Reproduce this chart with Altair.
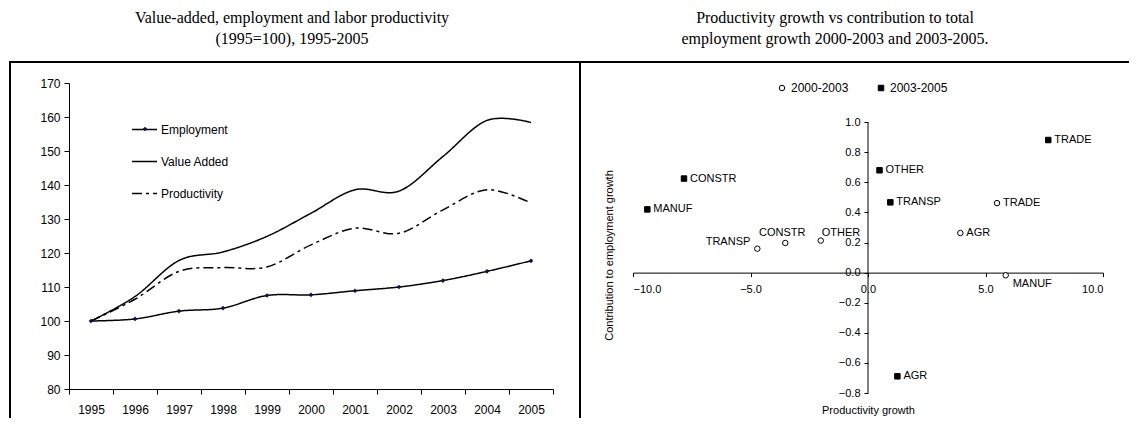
import altair as alt
import pandas as pd

# ---------------- data: left panel ----------------
years = [str(y) for y in range(1995, 2006)]
employment = [100.0, 100.6, 102.9, 103.8, 107.5, 107.7, 108.9, 110.0, 111.9, 114.6, 117.7]
value_added = [100.0, 107.2, 117.8, 120.3, 124.9, 131.7, 138.6, 138.2, 148.4, 159.0, 158.4]
productivity = [100.0, 106.4, 114.6, 115.7, 115.9, 122.4, 127.3, 125.8, 132.7, 138.6, 134.7]
series_names = ["Employment", "Value Added", "Productivity"]
left_y_ticks = [80, 90, 100, 110, 120, 130, 140, 150, 160, 170]

# ---------------- data: right panel ----------------
sectors = ["AGR", "MANUF", "CONSTR", "TRADE", "TRANSP", "OTHER"]
periods = ["2000-2003", "2003-2005"]
prod_growth_0003 = [3.93, 5.86, -3.52, 5.49, -4.71, -2.01]
emp_contrib_0003 = [0.263, -0.018, 0.197, 0.462, 0.159, 0.213]
prod_growth_0305 = [1.25, -9.39, -7.83, 7.67, 0.95, 0.49]
emp_contrib_0305 = [-0.689, 0.42, 0.625, 0.881, 0.467, 0.68]
right_x_ticks = [-10.0, -5.0, 0.0, 5.0, 10.0]
right_y_ticks = [-0.8, -0.6, -0.4, -0.2, 0.0, 0.2, 0.4, 0.6, 0.8, 1.0]

FONT = "Liberation Sans"
TFONT = "Liberation Serif"

# layout (pixels)
WL, HL = 484, 306
WR, HR = 470, 310
YR_TOP = 1.26
FRAME_TOP = -21
FRAME_BOTTOM = 335
TITLE_OFFSET = 14
MARKER_COLOR = "#101050"

# ---------------- left panel ----------------
df_line = pd.DataFrame({
    "year": years * 3,
    "series": [series_names[0]] * len(years) + [series_names[1]] * len(years) + [series_names[2]] * len(years),
    "value": employment + value_added + productivity,
})

x_left = alt.X(
    "year:O",
    scale=alt.Scale(type="band", paddingInner=0, paddingOuter=0),
    bandPosition=0.5,
    axis=alt.Axis(title=None, labelAngle=0, tickBand="extent", tickSize=5,
                  labelPadding=10, labelFontSize=12, domainColor="black",
                  tickColor="black", labelColor="black", labelOverlap=False),
)
y_left = alt.Y(
    "value:Q",
    scale=alt.Scale(domain=[80, 170], nice=False, zero=False),
    axis=alt.Axis(title=None, values=left_y_ticks, tickSize=5, labelPadding=4,
                  labelFontSize=12, domainColor="black", tickColor="black",
                  labelColor="black", grid=False, labelOverlap=False),
)

lines = alt.Chart(df_line).mark_line(interpolate="cardinal", strokeWidth=1.5, color="black").encode(
    x=x_left,
    y=y_left,
    strokeDash=alt.StrokeDash(
        "series:N",
        scale=alt.Scale(domain=series_names, range=[[1, 0], [1, 0], [10, 4, 3, 4]]),
        sort=series_names,
        legend=alt.Legend(title=None, orient="none", legendX=62, legendY=33,
                          symbolType="stroke", symbolSize=625, symbolStrokeWidth=1.5,
                          symbolStrokeColor="black", labelFontSize=12, labelColor="black",
                          labelOffset=3, rowPadding=12),
    ),
)

# marker layer; its own tiny legend puts a diamond on the "Employment" legend line
emp_points = alt.Chart(df_line).transform_filter(
    alt.datum.series == series_names[0]
).transform_calculate(marker="datum.series").mark_point(
    filled=True, size=22, opacity=1
).encode(
    x=x_left,
    y=y_left,
    shape=alt.Shape("marker:N", scale=alt.Scale(domain=[series_names[0]], range=["diamond"]),
                    legend=alt.Legend(title=None, orient="none", legendX=70, legendY=40,
                                      symbolSize=22, symbolFillColor=MARKER_COLOR,
                                      symbolStrokeWidth=0, labelExpr="''",
                                      labelFontSize=12, symbolOpacity=1)),
    color=alt.value(MARKER_COLOR),
)

frame_left = alt.Chart(df_line).mark_rule(color="black", strokeWidth=2).encode(
    x=alt.value(-59), y=alt.value(FRAME_TOP), y2=alt.value(FRAME_BOTTOM))
frame_mid = alt.Chart(df_line).mark_rule(color="black", strokeWidth=2).encode(
    x=alt.value(511), y=alt.value(FRAME_TOP), y2=alt.value(FRAME_BOTTOM))
frame_top_l = alt.Chart(df_line).mark_rule(color="black", strokeWidth=2).encode(
    x=alt.value(-60), x2=alt.value(511), y=alt.value(FRAME_TOP))

left = alt.layer(frame_left, frame_mid, frame_top_l, lines, emp_points).properties(
    width=WL, height=HL,
    title=alt.TitleParams(
        ["Value-added, employment and labor productivity", "(1995=100), 1995-2005"],
        font=TFONT, fontSize=16, fontWeight="normal", anchor="middle", dx=-19,
        offset=TITLE_OFFSET, lineHeight=21, color="black"),
)

# ---------------- right panel ----------------
df_sc = pd.DataFrame({
    "sector": sectors * 2,
    "period": [periods[0]] * len(sectors) + [periods[1]] * len(sectors),
    "pg": prod_growth_0003 + prod_growth_0305,
    "ec": emp_contrib_0003 + emp_contrib_0305,
})

x_off = -HR * (0 - (-0.8)) / (YR_TOP + 0.8)
zero_y_px = HR * YR_TOP / (YR_TOP + 0.8)
xs_right = alt.Scale(domain=[-10, 10], nice=False, zero=False)
ys_right = alt.Scale(domain=[-0.8, YR_TOP], nice=False, zero=False)

x_axis_r = alt.Axis(title="Productivity growth", values=right_x_ticks, format=".1f",
                    offset=x_off, tickSize=4, labelPadding=7, labelFontSize=11,
                    labelColor="black", domainColor="black", tickColor="black",
                    grid=False, titleFontSize=11, titleFontWeight="normal", labelOverlap=False,
                    titleColor="black", titleY=(410 - 83) - zero_y_px, titleBaseline="middle")
y_axis_r = alt.Axis(title="Contribution to employment growth", values=right_y_ticks, format=".1f",
                    offset=-WR / 2, domain=False, tickSize=4, labelPadding=4,
                    labelFontSize=11, labelColor="black", tickColor="black", grid=False,
                    labelOverlap=False,
                    titleFontSize=11, titleFontWeight="normal", titleColor="black",
                    titleX=608 - 867, titleY=255 - 83, titleAngle=270,
                    titleAlign="center", titleBaseline="middle")
x_right = alt.X("pg:Q", scale=xs_right, axis=x_axis_r)
y_right = alt.Y("ec:Q", scale=ys_right, axis=y_axis_r)

axis_line = alt.Chart(pd.DataFrame({
    "pg": [0.0], "ec": [min(right_y_ticks)], "ec2": [max(right_y_ticks)]
})).mark_rule(color="black", strokeWidth=1).encode(
    x=x_right, y=y_right, y2="ec2:Q",
)

leg = alt.Legend(title=None, orient="none", legendX=143, legendY=-1, direction="horizontal",
                 labelFontSize=12, labelColor="black", columnPadding=26, labelOffset=3,
                 symbolStrokeColor="black", symbolStrokeWidth=1, symbolSize=30)

points = alt.Chart(df_sc).mark_point(filled=True, strokeWidth=1, opacity=1, size=30).encode(
    x=x_right,
    y=y_right,
    shape=alt.Shape("period:N", scale=alt.Scale(domain=periods, range=["circle", "square"]), legend=leg),
    fill=alt.Fill("period:N", scale=alt.Scale(domain=periods, range=["white", "black"]), legend=leg),
    stroke=alt.Stroke("period:N", scale=alt.Scale(domain=periods, range=["black", "black"]), legend=leg),
)

is_a = alt.datum.period == periods[0]
base_txt = alt.Chart(df_sc)
t_default = base_txt.transform_filter(
    ~((is_a) & ((alt.datum.sector == "TRANSP") | (alt.datum.sector == "CONSTR") |
                (alt.datum.sector == "OTHER") | (alt.datum.sector == "MANUF")))
).mark_text(align="left", baseline="middle", dx=6, fontSize=11, color="black").encode(
    x=x_right, y=y_right, text="sector:N")
t_left = base_txt.transform_filter(is_a & (alt.datum.sector == "TRANSP")).mark_text(
    align="right", baseline="middle", dx=-7, dy=-7, fontSize=11, color="black").encode(
    x=x_right, y=y_right, text="sector:N")
t_above = base_txt.transform_filter(is_a & (alt.datum.sector == "CONSTR")).mark_text(
    align="center", baseline="middle", dx=-3, dy=-10, fontSize=11, color="black").encode(
    x=x_right, y=y_right, text="sector:N")
t_above_r = base_txt.transform_filter(is_a & (alt.datum.sector == "OTHER")).mark_text(
    align="left", baseline="middle", dx=1, dy=-8, fontSize=11, color="black").encode(
    x=x_right, y=y_right, text="sector:N")
t_below = base_txt.transform_filter(is_a & (alt.datum.sector == "MANUF")).mark_text(
    align="left", baseline="middle", dx=7, dy=9, fontSize=11, color="black").encode(
    x=x_right, y=y_right, text="sector:N")

frame_top_r = alt.Chart(df_sc).mark_rule(color="black", strokeWidth=2).encode(
    x=alt.value(-53), x2=alt.value(496), y=alt.value(FRAME_TOP))

right = alt.layer(points, frame_top_r, axis_line, t_default, t_left, t_above, t_above_r, t_below).properties(
    width=WR, height=HR,
    title=alt.TitleParams(
        ["Productivity growth vs contribution to total", "employment growth 2000-2003 and 2003-2005."],
        font=TFONT, fontSize=16, fontWeight="normal", anchor="middle", dx=-33,
        offset=TITLE_OFFSET, lineHeight=21, color="black"),
)

chart = alt.hconcat(left, right, spacing=80, bounds="flush").resolve_scale(
    shape="independent", fill="independent", stroke="independent", strokeDash="independent"
).resolve_legend(
    shape="independent", fill="independent", stroke="independent", strokeDash="independent"
).properties(
    padding={"left": 0, "top": 2, "right": 0, "bottom": 0}
).configure(font=FONT).configure_view(stroke=None)

chart.save("out.html", embed_options={"renderer": "svg", "actions": False})
